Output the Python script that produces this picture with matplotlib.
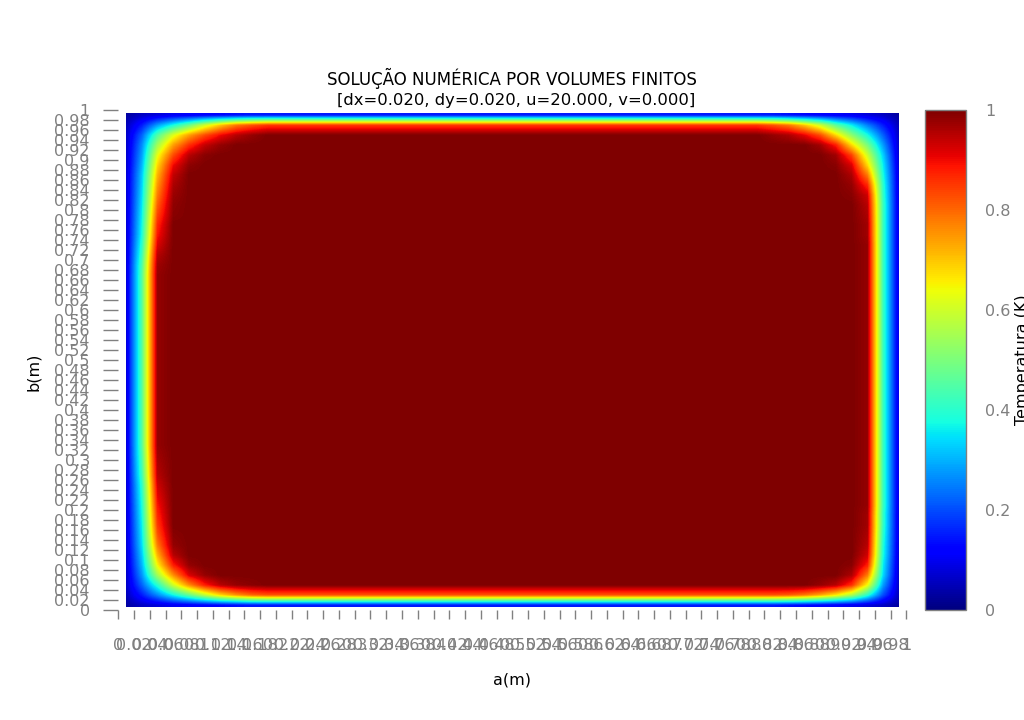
import numpy as np
import matplotlib
matplotlib.use("Agg")
import matplotlib.pyplot as plt
from matplotlib.patches import Rectangle

# ---------------- data ----------------
title_line1 = "SOLUÇÃO NUMÉRICA POR VOLUMES FINITOS"
title_line2 = "[dx=0.020, dy=0.020, u=20.000, v=0.000]"
x_label = "a(m)"
y_label = "b(m)"
cbar_label = "Temperatura (K)"

# control-volume centres (0.01 ... 0.99)
x_centres = np.round(np.arange(50) * 0.02 + 0.01, 2)
y_centres = np.round(np.arange(50) * 0.02 + 0.01, 2)
# tick values 0, 0.02, ..., 1
tick_vals = np.round(np.arange(0, 51) * 0.02, 2)
cbar_ticks = [0, 0.2, 0.4, 0.6, 0.8, 1]

# wall profiles away from the corners (1st, 2nd, 3rd ... volume from each wall)
left_edge = [0.07, 0.45, 0.98, 1.0]
right_edge = [0.08, 0.42, 0.98, 1.0]
bottom_edge = [0.15, 0.82, 1.0]
top_edge = [0.15, 0.85, 1.0]

# corner patches: rows from the horizontal wall inward, cols from the vertical wall inward
corner_tl = [
    [0.03, 0.06, 0.08, 0.10, 0.11, 0.12, 0.13, 0.14, 0.15],
    [0.05, 0.15, 0.28, 0.38, 0.48, 0.60, 0.70, 0.78, 0.82],
    [0.06, 0.22, 0.45, 0.62, 0.74, 0.83, 0.90, 0.95, 0.98],
    [0.06, 0.26, 0.55, 0.74, 0.86, 0.94, 0.98, 1.0, 1.0],
    [0.065, 0.28, 0.63, 0.83, 0.95, 0.99, 1.0, 1.0, 1.0],
    [0.065, 0.30, 0.68, 0.90, 0.985, 1.0, 1.0, 1.0, 1.0],
    [0.07, 0.32, 0.72, 0.94, 1.0, 1.0, 1.0, 1.0, 1.0],
    [0.07, 0.33, 0.75, 0.96, 1.0, 1.0, 1.0, 1.0, 1.0],
    [0.07, 0.34, 0.78, 0.975, 1.0, 1.0, 1.0, 1.0, 1.0],
    [0.07, 0.35, 0.81, 0.985, 1.0, 1.0, 1.0, 1.0, 1.0],
    [0.07, 0.36, 0.84, 0.99, 1.0, 1.0, 1.0, 1.0, 1.0],
    [0.07, 0.37, 0.87, 1.0, 1.0, 1.0, 1.0, 1.0, 1.0],
    [0.07, 0.38, 0.89, 1.0, 1.0, 1.0, 1.0, 1.0, 1.0],
    [0.07, 0.40, 0.92, 1.0, 1.0, 1.0, 1.0, 1.0, 1.0],
    [0.07, 0.42, 0.95, 1.0, 1.0, 1.0, 1.0, 1.0, 1.0],
    [0.07, 0.44, 0.97, 1.0, 1.0, 1.0, 1.0, 1.0, 1.0],
]
corner_tr = [
    [0.03, 0.06, 0.08, 0.10, 0.11, 0.12, 0.13, 0.14, 0.15],
    [0.05, 0.15, 0.25, 0.36, 0.46, 0.60, 0.70, 0.78, 0.82],
    [0.06, 0.22, 0.38, 0.52, 0.68, 0.83, 0.91, 0.96, 0.98],
    [0.065, 0.28, 0.50, 0.68, 0.88, 0.97, 1.0, 1.0, 1.0],
    [0.07, 0.33, 0.60, 0.84, 0.97, 1.0, 1.0, 1.0, 1.0],
    [0.075, 0.36, 0.68, 0.92, 0.99, 1.0, 1.0, 1.0, 1.0],
    [0.08, 0.38, 0.78, 0.96, 1.0, 1.0, 1.0, 1.0, 1.0],
    [0.08, 0.40, 0.87, 0.98, 1.0, 1.0, 1.0, 1.0, 1.0],
    [0.08, 0.41, 0.93, 0.99, 1.0, 1.0, 1.0, 1.0, 1.0],
    [0.08, 0.42, 0.95, 1.0, 1.0, 1.0, 1.0, 1.0, 1.0],
    [0.08, 0.42, 0.96, 1.0, 1.0, 1.0, 1.0, 1.0, 1.0],
    [0.08, 0.42, 0.97, 1.0, 1.0, 1.0, 1.0, 1.0, 1.0],
    [0.08, 0.42, 0.97, 1.0, 1.0, 1.0, 1.0, 1.0, 1.0],
    [0.08, 0.42, 0.98, 1.0, 1.0, 1.0, 1.0, 1.0, 1.0],
    [0.08, 0.42, 0.98, 1.0, 1.0, 1.0, 1.0, 1.0, 1.0],
    [0.08, 0.42, 0.98, 1.0, 1.0, 1.0, 1.0, 1.0, 1.0],
]
corner_bl = [
    [0.03, 0.06, 0.08, 0.10, 0.11, 0.12, 0.13, 0.14, 0.15],
    [0.05, 0.15, 0.26, 0.37, 0.47, 0.58, 0.68, 0.75, 0.80],
    [0.06, 0.22, 0.40, 0.60, 0.76, 0.88, 0.95, 0.98, 0.99],
    [0.06, 0.27, 0.55, 0.76, 0.92, 0.98, 1.0, 1.0, 1.0],
    [0.065, 0.30, 0.65, 0.88, 0.98, 1.0, 1.0, 1.0, 1.0],
    [0.065, 0.32, 0.72, 0.95, 1.0, 1.0, 1.0, 1.0, 1.0],
    [0.07, 0.34, 0.78, 0.98, 1.0, 1.0, 1.0, 1.0, 1.0],
    [0.07, 0.35, 0.82, 0.99, 1.0, 1.0, 1.0, 1.0, 1.0],
    [0.07, 0.36, 0.85, 1.0, 1.0, 1.0, 1.0, 1.0, 1.0],
    [0.07, 0.37, 0.87, 1.0, 1.0, 1.0, 1.0, 1.0, 1.0],
    [0.07, 0.38, 0.89, 1.0, 1.0, 1.0, 1.0, 1.0, 1.0],
    [0.07, 0.39, 0.91, 1.0, 1.0, 1.0, 1.0, 1.0, 1.0],
    [0.07, 0.40, 0.93, 1.0, 1.0, 1.0, 1.0, 1.0, 1.0],
    [0.07, 0.42, 0.95, 1.0, 1.0, 1.0, 1.0, 1.0, 1.0],
    [0.07, 0.43, 0.96, 1.0, 1.0, 1.0, 1.0, 1.0, 1.0],
    [0.07, 0.44, 0.97, 1.0, 1.0, 1.0, 1.0, 1.0, 1.0],
]
corner_br = [
    [0.03, 0.06, 0.08, 0.10, 0.11, 0.12, 0.13, 0.14, 0.15],
    [0.05, 0.20, 0.40, 0.56, 0.66, 0.73, 0.78, 0.81, 0.82],
    [0.06, 0.28, 0.64, 0.86, 0.95, 0.98, 1.0, 1.0, 1.0],
    [0.065, 0.34, 0.78, 0.96, 1.0, 1.0, 1.0, 1.0, 1.0],
    [0.07, 0.36, 0.88, 0.99, 1.0, 1.0, 1.0, 1.0, 1.0],
    [0.075, 0.38, 0.93, 1.0, 1.0, 1.0, 1.0, 1.0, 1.0],
    [0.08, 0.39, 0.95, 1.0, 1.0, 1.0, 1.0, 1.0, 1.0],
    [0.08, 0.40, 0.96, 1.0, 1.0, 1.0, 1.0, 1.0, 1.0],
    [0.08, 0.41, 0.97, 1.0, 1.0, 1.0, 1.0, 1.0, 1.0],
    [0.08, 0.41, 0.97, 1.0, 1.0, 1.0, 1.0, 1.0, 1.0],
    [0.08, 0.42, 0.98, 1.0, 1.0, 1.0, 1.0, 1.0, 1.0],
    [0.08, 0.42, 0.98, 1.0, 1.0, 1.0, 1.0, 1.0, 1.0],
    [0.08, 0.42, 0.98, 1.0, 1.0, 1.0, 1.0, 1.0, 1.0],
    [0.08, 0.42, 0.98, 1.0, 1.0, 1.0, 1.0, 1.0, 1.0],
    [0.08, 0.42, 0.98, 1.0, 1.0, 1.0, 1.0, 1.0, 1.0],
    [0.08, 0.42, 0.98, 1.0, 1.0, 1.0, 1.0, 1.0, 1.0],
]

# ---------------- assemble field ----------------
ny, nx = len(y_centres), len(x_centres)
field = np.ones((ny, nx))  # rows: y (bottom -> top), cols: x
for k, v in enumerate(left_edge):
    field[:, k] = np.minimum(field[:, k], v)
for k, v in enumerate(right_edge):
    field[:, nx - 1 - k] = np.minimum(field[:, nx - 1 - k], v)
for k, v in enumerate(bottom_edge):
    field[k, :] = np.minimum(field[k, :], v)
for k, v in enumerate(top_edge):
    field[ny - 1 - k, :] = np.minimum(field[ny - 1 - k, :], v)


def put_corner(patch, top, right):
    p = np.array(patch)
    nr, nc = p.shape
    for r in range(nr):
        for c in range(nc):
            row = ny - 1 - r if top else r
            col = nx - 1 - c if right else c
            field[row, col] = p[r, c]


put_corner(corner_tl, True, False)
put_corner(corner_tr, True, True)
put_corner(corner_bl, False, False)
put_corner(corner_br, False, True)

# ---------------- figure ----------------
W, H = 1024, 720
fig = plt.figure(figsize=(W / 100, H / 100), dpi=100)
ax_l, ax_r, ax_t, ax_b = 118.3, 906.3, 110, 610
ax = fig.add_axes([ax_l / W, 1 - ax_b / H, (ax_r - ax_l) / W, (ax_b - ax_t) / H])

hx = (x_centres[1] - x_centres[0]) / 2
hy = (y_centres[1] - y_centres[0]) / 2
im = ax.imshow(field, origin="lower", cmap="jet", vmin=0, vmax=1,
               extent=[x_centres[0] - hx, x_centres[-1] + hx,
                       y_centres[0] - hy, y_centres[-1] + hy],
               interpolation="bilinear", aspect="auto")
# the smoothed image spans from the first to the last cell centre
im.set_clip_path(Rectangle((x_centres[0], y_centres[0] - 0.004),
                           x_centres[-1] - x_centres[0],
                           y_centres[-1] - y_centres[0] + 0.008,
                           transform=ax.transData))
ax.set_xlim(0, 1)
ax.set_ylim(0, 1)
for s in ax.spines.values():
    s.set_visible(False)

grey = "#808080"
ax.set_xticks(tick_vals)
ax.set_xticklabels([f"{v:g}" for v in tick_vals])
ax.set_yticks(tick_vals)
ax.set_yticklabels([f"{v:g}" for v in tick_vals])
ax.tick_params(axis="x", length=6.5, width=1, color=grey, labelcolor=grey,
               labelsize=11.5, pad=14)
ax.tick_params(axis="y", length=10.5, width=1, color=grey, labelcolor=grey,
               labelsize=11.5, pad=10)

ax.set_xlabel(x_label, fontsize=11.5, labelpad=14)
fig.text(33 / W, 1 - 372 / H, y_label, rotation=90, fontsize=11.5,
         ha="center", va="center")
fig.text(512 / W, 1 - 78 / H, title_line1, fontsize=12, ha="center", va="center")
fig.text(516 / W, 1 - 100 / H, title_line2, fontsize=11.8, ha="center", va="center")

# colour bar
cax = fig.add_axes([925 / W, 1 - 610 / H, 40.5 / W, 500 / H])
cb = fig.colorbar(im, cax=cax, ticks=cbar_ticks)
cb.outline.set_edgecolor(grey)
cb.outline.set_linewidth(1)
cax.tick_params(length=0, labelcolor=grey, labelsize=11.5, pad=14)
cax.set_yticklabels([f"{v:g}" for v in cbar_ticks])
fig.text(1022 / W, 1 - 360 / H, cbar_label, rotation=90, fontsize=11.5,
         ha="center", va="center")

fig.savefig("out.png", dpi=100, facecolor="white")
